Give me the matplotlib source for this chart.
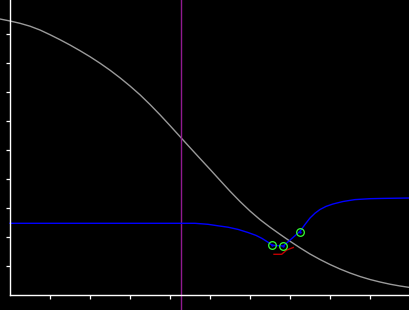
import matplotlib
matplotlib.use("Agg")
import matplotlib.pyplot as plt

# gray decreasing curve
gray_x = [-10, 0, 10, 20, 30, 40, 50, 60, 70, 80, 90, 100, 110, 120, 130, 140, 150,
          160, 170, 180, 190, 200, 210, 220, 230, 240, 250, 260, 270, 280, 290, 300,
          310, 320, 330, 340, 350, 360, 370, 380, 390, 400]
gray_y = [276, 274, 271.7, 268.8, 265, 260.3, 255.3, 250, 244.3, 238.3, 231.8, 224.8,
          217.2, 209, 200.2, 190.5, 180.2, 169.4, 158.4, 147.4, 136.5, 125.7, 114.7,
          103.8, 93.5, 84, 75.4, 67.8, 60.7, 53.8, 47.2, 41, 35.5, 30.5, 26, 22, 18.5,
          15.5, 13, 10.8, 9, 7.5]

# blue curve
blue_x = [0, 185, 198, 208, 218, 228, 238, 246, 252, 258, 262.3, 273.3,
          290, 295, 300, 305, 310, 316, 323, 333, 345, 360, 373, 400]
blue_y = [71.7, 71.7, 70.7, 69.2, 67.8, 65.6, 62.5, 59.6, 56.6, 52.8, 49.7, 49.0,
          63.7, 70.5, 77.0, 81.8, 85.5, 88.6, 91.0, 93.5, 95.4, 96.3, 96.6, 97.0]

# red segment
red_x = [264, 271.7, 276.7, 283.3]
red_y = [40.7, 40.7, 45.0, 47.5]

# green circle markers
pts_x = [262.3, 273.3, 290]
pts_y = [49.7, 49.0, 63.5]

# vertical marker line
vline_x = 171

x_ticks = [40, 80, 120, 160, 200, 240, 280, 320, 360]
y_ticks = [29, 58, 87, 116, 145, 174, 203, 232, 261]

fig = plt.figure(figsize=(4.1, 3.1), dpi=100, facecolor="black")
ax = fig.add_axes([0, 0, 1, 1])
ax.set_facecolor("black")

ax.plot(gray_x, gray_y, color="#9a9a9a", lw=1.0)
ax.axvline(vline_x, ymin=0, ymax=1, color="#901a90", lw=1.0)
ax.plot(blue_x, blue_y, color="#0000ff", lw=1.0)
ax.plot(red_x, red_y, color="#c00000", lw=1.0)
ax.plot(pts_x, pts_y, linestyle="none", marker="o", markersize=5.5,
        markerfacecolor="none", markeredgecolor="#33ff33", markeredgewidth=0.9)
ax.plot(pts_x, pts_y, linestyle="none", marker=".", markersize=1.5, color="#0000ff")

ax.set_xlim(-10, 400)
ax.set_ylim(-15, 295)

for s in ["top", "right"]:
    ax.spines[s].set_visible(False)
ax.spines["left"].set_position(("data", 0))
ax.spines["bottom"].set_position(("data", 0))
ax.spines["left"].set_bounds(0, 295)
ax.spines["bottom"].set_bounds(0, 400)
for s in ["left", "bottom"]:
    ax.spines[s].set_color("white")
    ax.spines[s].set_linewidth(1.0)

ax.set_xticks(x_ticks)
ax.set_yticks(y_ticks)
ax.set_xticklabels([])
ax.set_yticklabels([])
ax.tick_params(direction="out", length=2.8, width=0.9, colors="white")

fig.savefig("out.png", dpi=100, facecolor="black")
